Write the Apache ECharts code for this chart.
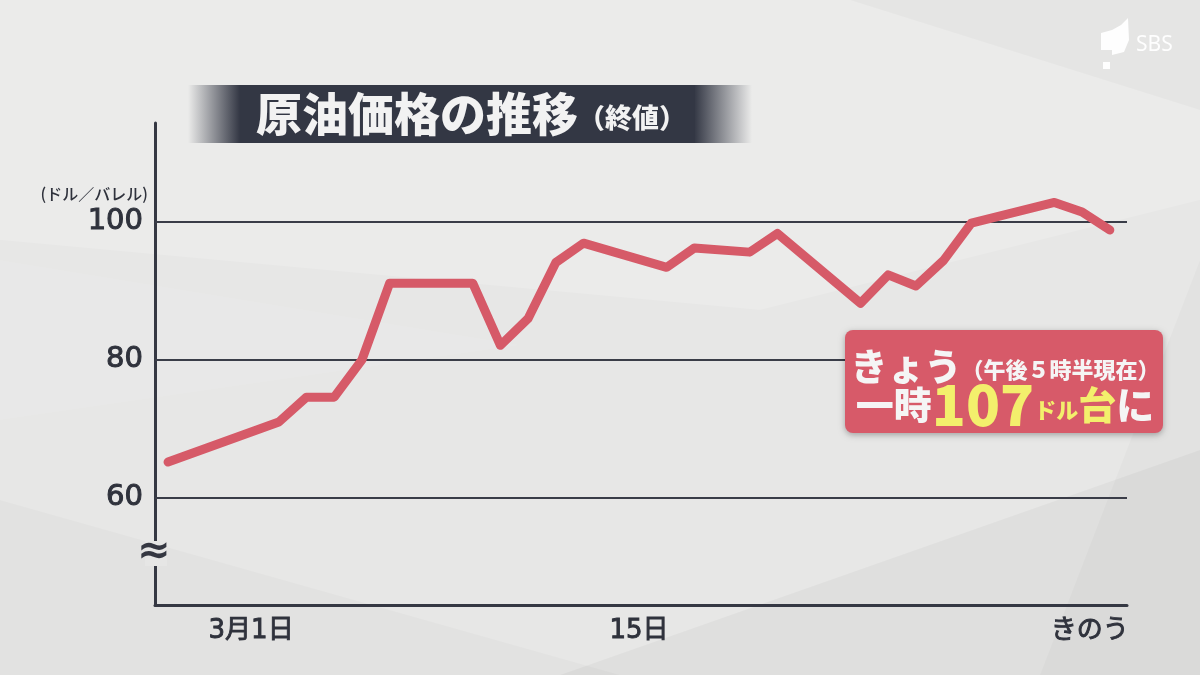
<!DOCTYPE html>
<html><head><meta charset="utf-8">
<script src="https://cdn.jsdelivr.net/npm/echarts@6/dist/echarts.min.js"></script>
<style>html,body{margin:0;padding:0;background:#e7e7e6;}#c{width:1200px;height:675px;}</style>
</head><body><div id="c"></div>
<script>
// days relative to 3月1日
const dayOffsets = [-3,1,2,3,4,5,8,9,10,11,12,15,16,18,19,22,23,24,25,26,29,30,31];
const closePrices = [65.2,71.0,74.6,74.6,80.0,91.1,91.1,82.1,86.0,94.1,96.9,93.4,96.2,95.6,98.3,88.2,92.3,90.7,94.4,99.8,102.8,101.4,98.8];
const xTickDays = [0,14,31];
const xTickLabels = ['3月1日','15日','きのう'];
const yTicks = [60,80,100];
const yMin = 44.5, yMax = 114.3;
const xMin = -3.47, xMax = 31.62;

const FONT = '"DejaVu Sans","Noto Sans CJK JP",sans-serif';
const JP = '"Noto Sans CJK JP",sans-serif';
const AX = '#353843';
const LBL = '#2f323c';
const bg = '#e7e7e6';

const chart = echarts.init(document.getElementById('c'));
chart.setOption({
  backgroundColor: bg,
  animation: false,
  grid: {left: 155, right: 73, top: 123, bottom: 70},
  xAxis: {
    type: 'value', min: xMin, max: xMax,
    axisLine: {show: true, onZero: false, lineStyle: {color: AX, width: 3}},
    axisTick: {show: false},
    splitLine: {show: false},
    axisLabel: {
      customValues: xTickDays,
      margin: 13,
      color: LBL, fontSize: 26, fontFamily: FONT, fontWeight: 'normal',
      textBorderColor: LBL, textBorderWidth: 0.9,
      formatter: function (v) {
        const i = xTickDays.indexOf(v);
        if (i < 0) return '';
        if (i === xTickDays.length - 1) return '{r|' + xTickLabels[i] + '}';
        return xTickLabels[i];
      },
      rich: {r: {fontSize: 26, fontFamily: FONT, color: LBL, textBorderColor: LBL, textBorderWidth: 0.9, padding: [0, 40, 0, 0]}}
    }
  },
  yAxis: {
    type: 'value', min: yMin, max: yMax,
    axisLine: {show: true, onZero: false, lineStyle: {color: AX, width: 3}},
    axisTick: {show: false},
    splitLine: {show: false},
    axisLabel: {customValues: yTicks, margin: 12, color: LBL, fontSize: 29, fontFamily: FONT, fontWeight: 'normal',
      textBorderColor: LBL, textBorderWidth: 1}
  },
  graphic: [
    // background facets
    {type: 'polygon', z: -10, silent: true, shape: {points: [[0,0],[1200,0],[1200,200],[760,310],[0,240]]}, style: {fill: 'rgba(255,255,255,0.16)'}},
    {type: 'polygon', z: -10, silent: true, shape: {points: [[0,260],[520,345],[0,420]]}, style: {fill: 'rgba(255,255,255,0.08)'}},
    {type: 'polygon', z: -10, silent: true, shape: {points: [[0,500],[620,675],[0,675]]}, style: {fill: 'rgba(0,0,0,0.02)'}},
    {type: 'polygon', z: -10, silent: true, shape: {points: [[560,675],[1200,450],[1200,675]]}, style: {fill: 'rgba(0,0,0,0.03)'}},
    {type: 'polygon', z: -10, silent: true, shape: {points: [[1040,675],[1200,260],[1200,675]]}, style: {fill: 'rgba(0,0,0,0.02)'}},
    {type: 'polygon', z: -10, silent: true, shape: {points: [[850,0],[1200,0],[1200,110]]}, style: {fill: 'rgba(0,0,0,0.025)'}},
    // title band
    {type: 'rect', z: 20, silent: true, shape: {x: 188, y: 85, width: 52, height: 58},
      style: {fill: {type: 'linear', x: 0, y: 0, x2: 1, y2: 0, colorStops: [{offset: 0, color: 'rgba(51,55,68,0)'}, {offset: 1, color: 'rgba(51,55,68,1)'}]}}},
    {type: 'rect', z: 20, silent: true, shape: {x: 240, y: 85, width: 455, height: 58}, style: {fill: '#333744'}},
    {type: 'rect', z: 20, silent: true, shape: {x: 694, y: 85, width: 58, height: 58},
      style: {fill: {type: 'linear', x: 0, y: 0, x2: 1, y2: 0, colorStops: [{offset: 0, color: 'rgba(51,55,68,1)'}, {offset: 1, color: 'rgba(51,55,68,0)'}]}}},
    {type: 'text', z: 21, silent: true, x: 256, y: 114,
      style: {text: '{a|原油価格の推移}{b|（終値）}', verticalAlign: 'middle', align: 'left',
        rich: {a: {fontSize: 46, fontWeight: 900, fontFamily: JP, fill: '#f2f2f2', color: '#f2f2f2'},
               b: {fontSize: 27, fontWeight: 900, fontFamily: JP, fill: '#f2f2f2', color: '#f2f2f2', padding: [8, 0, 0, 0]}}}},
    // unit label
    {type: 'text', z: 20, silent: true, x: 148, y: 194,
      style: {text: '(ドル／バレル)', align: 'right', verticalAlign: 'middle', fontSize: 16, fontWeight: 500, fontFamily: JP, fill: LBL}},
    // axis break
    {type: 'rect', z: 20, silent: true, shape: {x: 145, y: 541, width: 22, height: 25}, style: {fill: '#e6e6e5'}},
    {type: 'text', z: 21, silent: true, x: 154, y: 553,
      style: {text: '≈', align: 'center', verticalAlign: 'middle', fontSize: 40, fontWeight: 'bold', fontFamily: '"DejaVu Sans",sans-serif', fill: '#343741'}},
    // annotation box
    {type: 'rect', z: 30, silent: true, shape: {x: 845, y: 330, width: 318, height: 103, r: 8},
      style: {fill: '#d75a69', shadowBlur: 6, shadowColor: 'rgba(0,0,0,0.3)', shadowOffsetY: 2}},
    {type: 'text', z: 31, silent: true, x: 1005, y: 367,
      style: {text: '{a|きょう}{b|（午後５時半現在）}', align: 'center', verticalAlign: 'middle',
        rich: {a: {fontSize: 37, fontWeight: 900, fontFamily: JP, fill: '#f5f5f5', color: '#f5f5f5'},
               b: {fontSize: 22, fontWeight: 900, fontFamily: JP, fill: '#f5f5f5', color: '#f5f5f5', padding: [6, 0, 0, 0]}}}},
    {type: 'text', z: 31, silent: true, x: 1005, y: 405,
      style: {text: '{w|一時}{y|107}{d|ドル}{t|台}{w|に}', align: 'center', verticalAlign: 'middle',
        rich: {w: {fontSize: 38, fontWeight: 900, fontFamily: JP, fill: '#f5f5f5', color: '#f5f5f5'},
               y: {fontSize: 56, fontWeight: 900, fontFamily: JP, fill: '#f3ef6c', color: '#f3ef6c'},
               d: {fontSize: 22, fontWeight: 900, fontFamily: JP, fill: '#f3ef6c', color: '#f3ef6c', padding: [10, 0, 0, 0]},
               t: {fontSize: 38, fontWeight: 900, fontFamily: JP, fill: '#f3ef6c', color: '#f3ef6c'}}}},
    // SBS logo
    {type: 'polygon', z: 20, silent: true, shape: {points: [[1101,33],[1112,30],[1121,25],[1128,18],[1129,40],[1124,52],[1112,55],[1112,50],[1101,50]]}, style: {fill: 'rgba(255,255,255,0.95)'}},
    {type: 'rect', z: 20, silent: true, shape: {x: 1103, y: 62, width: 7, height: 7}, style: {fill: 'rgba(255,255,255,0.95)'}},
    {type: 'text', z: 20, silent: true, x: 1136, y: 45,
      style: {text: 'SBS', align: 'left', verticalAlign: 'middle', fontSize: 21, fontFamily: '"Noto Sans",sans-serif', fill: 'rgba(255,255,255,0.95)'}}
  ],
  series: [
    {
      type: 'line', data: [], z: 1, silent: true,
      markLine: {
        silent: true, symbol: ['none', 'none'], label: {show: false},
        lineStyle: {color: '#3a3d48', width: 2, type: 'solid'},
        data: yTicks.map(v => ({yAxis: v}))
      }
    },
    {
      type: 'line', z: 5, silent: true,
      data: dayOffsets.map((d, i) => [d, closePrices[i]]),
      showSymbol: false, symbol: 'none',
      lineStyle: {color: '#d65a68', width: 9, cap: 'round', join: 'round'}
    }
  ]
});
</script>
</body></html>
